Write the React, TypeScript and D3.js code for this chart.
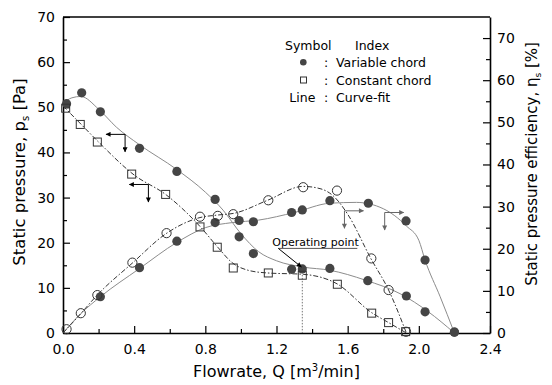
import React, { useRef, useEffect } from "react";
import * as d3 from "d3";

// axis ticks
const xTicks = [0, 0.4, 0.8, 1.2, 1.6, 2.0, 2.4];
const xMinor = [0.2, 0.6, 1.0, 1.4, 1.8, 2.2];
const pTicks = [0, 10, 20, 30, 40, 50, 60, 70];
const pMinor = [5, 15, 25, 35, 45, 55, 65];
const effTicks = [0, 10, 20, 30, 40, 50, 60, 70];
const effMinor = [5, 15, 25, 35, 45, 55, 65];

// measured points - variable chord (filled circles)
const varPQ = [0.02, 0.105, 0.21, 0.43, 0.64, 0.855, 0.99, 1.07, 1.285, 1.345, 1.5, 1.713, 1.93, 2.035, 2.2];
const varP = [50.8, 53.2, 49.0, 40.9, 35.8, 29.6, 21.3, 17.6, 14.1, 14.2, 14.3, 11.6, 8.2, 4.7, 0.2];
const varEffQ = [0.21, 0.43, 0.64, 0.855, 0.99, 1.07, 1.285, 1.345, 1.5, 1.716, 1.928, 2.035, 2.2];
const varEff = [8.6, 15.5, 21.8, 26.2, 26.7, 26.4, 28.6, 29.2, 31.4, 30.8, 26.6, 17.3, 0.2];

// measured points - constant chord (open squares / open circles)
const conPQ = [0.015, 0.097, 0.193, 0.386, 0.577, 0.77, 0.867, 0.957, 1.154, 1.345, 1.542, 1.735, 1.83, 1.926];
const conP = [49.8, 46.2, 42.3, 35.2, 30.7, 23.5, 19.0, 14.4, 13.3, 12.8, 10.8, 4.4, 2.3, 0.3];
const conEffQ = [0.02, 0.1, 0.193, 0.39, 0.582, 0.77, 0.87, 0.957, 1.154, 1.35, 1.54, 1.733, 1.83, 1.928];
const conEff = [0.9, 4.7, 9.0, 16.7, 23.7, 27.6, 27.8, 28.2, 31.5, 34.6, 33.8, 17.7, 10.2, 0.3];

// curve-fit lines
const varPFitQ = [0, 0.05, 0.1, 0.2, 0.3, 0.43, 0.64, 0.8, 0.9, 1.0, 1.1, 1.2, 1.35, 1.5, 1.7, 1.9, 2.05, 2.2];
const varPFit = [50.9, 52.1, 52.4, 49.6, 45.6, 41.7, 36.2, 31.2, 27.2, 22.0, 18.0, 16.0, 14.6, 13.9, 11.7, 8.6, 4.8, 0];
const conPFitQ = [0, 0.1, 0.2, 0.4, 0.58, 0.77, 0.87, 0.95, 1.05, 1.15, 1.35, 1.54, 1.735, 1.83, 1.93];
const conPFit = [50.3, 46.3, 42.3, 35.0, 30.6, 23.6, 19.0, 15.6, 13.8, 13.3, 13.0, 10.9, 4.5, 2.3, 0];
const varEffFitQ = [0, 0.1, 0.21, 0.43, 0.64, 0.8, 0.95, 1.1, 1.3, 1.5, 1.65, 1.8, 1.93, 2.0, 2.035, 2.12, 2.2];
const varEffFit = [0, 4.6, 8.6, 15.3, 21.5, 25.0, 26.2, 26.8, 28.6, 30.8, 31.0, 29.5, 25.4, 22.0, 17.3, 8.6, 0];
const conEffFitQ = [0, 0.1, 0.19, 0.39, 0.58, 0.77, 0.87, 0.96, 1.15, 1.35, 1.45, 1.52, 1.6, 1.73, 1.83, 1.93];
const conEffFit = [0, 4.6, 8.9, 16.6, 23.6, 27.4, 28.0, 28.4, 31.5, 34.8, 34.2, 32.5, 28.2, 17.7, 10.2, 0];

// axis-pointer arrows (corner in data units)
const arrows = [
  { q: 0.349, v: 44.0, axis: "p" },
  { q: 0.48, v: 32.9, axis: "p" },
  { q: 1.582, v: 29.0, axis: "eff" },
  { q: 1.808, v: 28.6, axis: "eff" },
];

const opQ = 1.345;
const opP = 14.2;

const FONT = "'DejaVu Sans', sans-serif";

const Chart = () => {
  const ref = useRef<SVGSVGElement>(null);

  useEffect(() => {
    const width = 552;
    const height = 385;
    const svg = d3.select(ref.current).attr("width", width).attr("height", height);
    svg.selectAll("*").remove();

    const x = d3.scaleLinear().domain([0, 2.4]).range([63, 490]);
    const yP = d3.scaleLinear().domain([0, 70]).range([333, 17]);
    const yE = d3.scaleLinear().domain([0, 75]).range([333, 17]);

    svg.append("rect").attr("width", width).attr("height", height).attr("fill", "#fff");

    const defs = svg.append("defs");
    const mk = (id: string, color: string) =>
      defs
        .append("marker")
        .attr("id", id)
        .attr("viewBox", "0 0 10 10")
        .attr("refX", 9)
        .attr("refY", 5)
        .attr("markerWidth", 7)
        .attr("markerHeight", 5)
        .attr("markerUnits", "userSpaceOnUse")
        .attr("orient", "auto")
        .append("path")
        .attr("d", "M0,0 L10,5 L0,10 z")
        .attr("fill", color);
    mk("headBlack", "#000");
    mk("headGray", "#666");

    // axes
    const styleAxis = (g: any, fs = 14) => {
      g.selectAll("text").style("font-family", FONT).style("font-size", fs + "px").attr("fill", "#000");
      g.selectAll("line").attr("stroke", "#000").attr("stroke-width", 1.2);
      g.select(".domain").attr("stroke", "#000").attr("stroke-width", 1.6);
    };

    const gx = svg
      .append("g")
      .attr("transform", "translate(0,333)")
      .call(d3.axisBottom(x).tickValues(xTicks).tickSize(-7).tickSizeOuter(0).tickPadding(11).tickFormat(d3.format(".1f")));
    styleAxis(gx);
    const gxm = svg
      .append("g")
      .attr("transform", "translate(0,333)")
      .call(d3.axisBottom(x).tickValues(xMinor).tickSize(-4).tickSizeOuter(0).tickFormat(() => ""));
    styleAxis(gxm);
    gxm.select(".domain").remove();

    const gl = svg
      .append("g")
      .attr("transform", "translate(63,0)")
      .call(d3.axisLeft(yP).tickValues(pTicks).tickSize(-7).tickSizeOuter(0).tickPadding(8));
    styleAxis(gl);
    const glm = svg
      .append("g")
      .attr("transform", "translate(63,0)")
      .call(d3.axisLeft(yP).tickValues(pMinor).tickSize(-4).tickSizeOuter(0).tickFormat(() => ""));
    styleAxis(glm);
    glm.select(".domain").remove();

    const gr = svg
      .append("g")
      .attr("transform", "translate(490,0)")
      .call(d3.axisRight(yE).tickValues(effTicks).tickSize(-7).tickSizeOuter(0).tickPadding(7));
    styleAxis(gr);
    const grm = svg
      .append("g")
      .attr("transform", "translate(490,0)")
      .call(d3.axisRight(yE).tickValues(effMinor).tickSize(-4).tickSizeOuter(0).tickFormat(() => ""));
    styleAxis(grm);
    grm.select(".domain").remove();

    // top frame
    svg
      .append("line")
      .attr("x1", x(0))
      .attr("x2", x(2.4))
      .attr("y1", yP(70))
      .attr("y2", yP(70))
      .attr("stroke", "#000")
      .attr("stroke-width", 1.6);

    // axis titles
    const xt = svg
      .append("text")
      .attr("x", (x(0) + x(2.4)) / 2)
      .attr("y", 377)
      .attr("text-anchor", "middle")
      .style("font-family", FONT)
      .style("font-size", "16px")
      .text("Flowrate, Q [m");
    xt.append("tspan").attr("dy", -6).style("font-size", "10px").text("3");
    xt.append("tspan").attr("dy", 6).text("/min]");

    const lt = svg
      .append("text")
      .attr("transform", "translate(25,172) rotate(-90)")
      .attr("text-anchor", "middle")
      .style("font-family", FONT)
      .style("font-size", "16.5px")
      .text("Static pressure, p");
    lt.append("tspan").attr("dy", 4).style("font-size", "10px").text("s");
    lt.append("tspan").attr("dy", -4).text(" [Pa]");

    const rt = svg
      .append("text")
      .attr("transform", "translate(537,164) rotate(-90)")
      .attr("text-anchor", "middle")
      .style("font-family", FONT)
      .style("font-size", "15px")
      .text("Static pressure efficiency, \u03b7");
    rt.append("tspan").attr("dy", 4).style("font-size", "9px").text("s");
    rt.append("tspan").attr("dy", -4).text(" [%]");

    // curve-fit lines
    const makeLine = (qs: number[], vs: number[], y: d3.ScaleLinear<number, number>) =>
      d3
        .line<number>()
        .x((q) => x(q))
        .y((_, i) => y(vs[i]))
        .curve(d3.curveMonotoneX)(qs);

    const solid = { stroke: "#8c8c8c", dash: null as string | null };
    const dashdot = { stroke: "#333", dash: "5,2,1.5,2" };
    [
      [varPFitQ, varPFit, yP, solid],
      [varEffFitQ, varEffFit, yE, solid],
      [conPFitQ, conPFit, yP, dashdot],
      [conEffFitQ, conEffFit, yE, dashdot],
    ].forEach(([qs, vs, y, st]: any) => {
      svg
        .append("path")
        .attr("d", makeLine(qs, vs, y))
        .attr("fill", "none")
        .attr("stroke", st.stroke)
        .attr("stroke-width", 1)
        .attr("stroke-dasharray", st.dash);
    });

    // operating point guide
    svg
      .append("line")
      .attr("x1", x(opQ))
      .attr("x2", x(opQ))
      .attr("y1", yP(opP))
      .attr("y2", yP(0))
      .attr("stroke", "#777")
      .attr("stroke-width", 1)
      .attr("stroke-dasharray", "1.5,1.5");

    // markers
    const dots = (qs: number[], vs: number[], y: any) =>
      svg
        .append("g")
        .selectAll("circle")
        .data(qs)
        .join("circle")
        .attr("cx", (q) => x(q))
        .attr("cy", (_, i) => y(vs[i]))
        .attr("r", 4.6);

    dots(varPQ, varP, yP).attr("fill", "#454545");
    dots(varEffQ, varEff, yE).attr("fill", "#454545");
    dots(conEffQ, conEff, yE).attr("fill", "none").attr("stroke", "#333").attr("stroke-width", 1);
    svg
      .append("g")
      .selectAll("rect")
      .data(conPQ)
      .join("rect")
      .attr("x", (q) => x(q) - 4)
      .attr("y", (_, i) => yP(conP[i]) - 4)
      .attr("width", 8)
      .attr("height", 8)
      .attr("fill", "none")
      .attr("stroke", "#333")
      .attr("stroke-width", 1);

    // axis-pointer arrows
    arrows.forEach((a) => {
      const cx = x(a.q);
      const cy = a.axis === "p" ? yP(a.v) : yE(a.v);
      const left = a.axis === "p";
      const col = left ? "#000" : "#666";
      const head = left ? "url(#headBlack)" : "url(#headGray)";
      svg
        .append("line")
        .attr("x1", cx)
        .attr("y1", cy)
        .attr("x2", left ? cx - 19 : cx + 19)
        .attr("y2", cy)
        .attr("stroke", col)
        .attr("stroke-width", 1)
        .attr("marker-end", head);
      svg
        .append("line")
        .attr("x1", cx)
        .attr("y1", cy)
        .attr("x2", cx)
        .attr("y2", cy + 17.5)
        .attr("stroke", col)
        .attr("stroke-width", 1)
        .attr("marker-end", head);
    });

    // operating point annotation
    const ox = x(opQ);
    const oy = yP(opP);
    svg
      .append("text")
      .attr("x", ox - 30)
      .attr("y", oy - 23)
      .style("font-family", FONT)
      .style("font-size", "11px")
      .text("Operating point");
    svg
      .append("line")
      .attr("x1", ox - 24)
      .attr("x2", ox + 55)
      .attr("y1", oy - 20.5)
      .attr("y2", oy - 20.5)
      .attr("stroke", "#555")
      .attr("stroke-width", 1);
    svg
      .append("line")
      .attr("x1", ox - 24)
      .attr("y1", oy - 20.5)
      .attr("x2", ox - 1)
      .attr("y2", oy - 2)
      .attr("stroke", "#000")
      .attr("stroke-width", 1)
      .attr("marker-end", "url(#headBlack)");

    // legend
    const lg = svg.append("g").style("font-family", FONT).style("font-size", "12.5px");
    const rows = [50.2, 66.8, 84.5, 101.8];
    lg.append("text").attr("x", 285).attr("y", rows[0]).text("Symbol");
    lg.append("text").attr("x", 355).attr("y", rows[0]).text("Index");
    lg.append("circle").attr("cx", 303.3).attr("cy", rows[1] - 4.5).attr("r", 3.3).attr("fill", "#454545");
    lg.append("rect").attr("x", 300.5).attr("y", rows[2] - 7.5).attr("width", 6).attr("height", 6).attr("fill", "none").attr("stroke", "#333");
    lg.append("text").attr("x", 289.3).attr("y", rows[3]).text("Line");
    const labels = ["Variable chord", "Constant chord", "Curve-fit"];
    labels.forEach((t, i) => {
      lg.append("text").attr("x", 326).attr("y", rows[i + 1]).attr("text-anchor", "middle").text(":");
      lg.append("text").attr("x", 336).attr("y", rows[i + 1]).text(t);
    });
  }, []);

  return <svg ref={ref} style={{ position: "absolute", left: 0, top: 0 }}></svg>;
};

export default function App() {
  return <Chart />;
}
